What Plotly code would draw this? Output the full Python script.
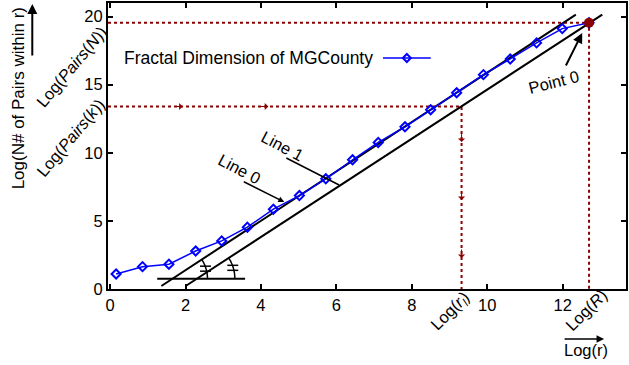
import math
import plotly.graph_objects as go

# ---------------- data ----------------
log_r = [0.16, 0.86, 1.56, 2.27, 2.96, 3.64, 4.33, 5.02, 5.72, 6.43,
         7.11, 7.82, 8.50, 9.19, 9.90, 10.61, 11.31, 11.99, 12.70]
log_pairs = [1.10, 1.64, 1.82, 2.79, 3.53, 4.54, 5.86, 6.86, 8.09, 9.49,
             10.76, 11.91, 13.16, 14.41, 15.74, 16.89, 18.07, 19.12, 19.55]

line1_x = [1.36, 12.35]
line1_y = [0.22, 20.15]
line0_x = [2.005, 13.05]
line0_y = [0.22, 20.15]
base_x = [1.25, 3.58]
base_y = [0.76, 0.76]

log_R = 12.70
log_pairs_N = 19.55
log_rl = 9.32
log_pairs_k = 13.40

x_ticks = [0, 2, 4, 6, 8, 10, 12]
y_ticks = [0, 5, 10, 15, 20]

# ---------------- geometry ----------------
W, H = 629, 365
L, R, T, B = 108, 628, 3, 289          # plot area in px
XR = [-0.055, 13.68]
YR = [0, 21]
FONT = "Liberation Sans, Arial, sans-serif"
DR = "#8b0000"


def px2x(px):
    return XR[0] + (px - L) / (R - L) * (XR[1] - XR[0])


def py2y(py):
    return YR[0] + (B - py) / (B - T) * (YR[1] - YR[0])


def x2px(x):
    return L + (x - XR[0]) / (XR[1] - XR[0]) * (R - L)


def y2py(y):
    return B - (y - YR[0]) / (YR[1] - YR[0]) * (B - T)


def pxp(px):  # paper x
    return (px - L) / (R - L)


def pyp(py):  # paper y
    return (B - py) / (B - T)


fig = go.Figure()

# reference dotted lines
fig.add_trace(go.Scatter(x=[XR[0], log_R, log_R], y=[log_pairs_N, log_pairs_N, 0],
                         mode="lines", line=dict(color=DR, width=2, dash="dot"),
                         showlegend=False, hoverinfo="skip"))
fig.add_trace(go.Scatter(x=[XR[0], log_rl, log_rl], y=[log_pairs_k, log_pairs_k, 0],
                         mode="lines", line=dict(color=DR, width=2, dash="dot"),
                         showlegend=False, hoverinfo="skip"))

# black fitted lines and baseline
for xs, ys in [(line1_x, line1_y), (line0_x, line0_y), (base_x, base_y)]:
    fig.add_trace(go.Scatter(x=xs, y=ys, mode="lines",
                             line=dict(color="black", width=2),
                             showlegend=False, hoverinfo="skip"))

# data series
fig.add_trace(go.Scatter(x=log_r, y=log_pairs, mode="lines+markers",
                         line=dict(color="#0000ff", width=1.5),
                         marker=dict(symbol="diamond-open", size=7,
                                     color="#0000ff", line=dict(width=2)),
                         showlegend=False))
# Point 0
fig.add_trace(go.Scatter(x=[log_r[-1]], y=[log_pairs[-1]], mode="markers",
                         marker=dict(symbol="circle", size=10, color=DR),
                         showlegend=False))

shapes = []
# angle arcs with equal marks
slope_px = (y2py(line1_y[1]) - y2py(line1_y[0])) / (x2px(line1_x[1]) - x2px(line1_x[0]))
ang = math.atan(-slope_px)
for lx, ly, rad in [(line1_x, line1_y, 35), (line0_x, line0_y, 38)]:
    xc = lx[0] + (base_y[0] - ly[0]) * (lx[1] - lx[0]) / (ly[1] - ly[0])
    cx, cy = x2px(xc), y2py(base_y[0])
    pts = []
    for i in range(21):
        a = ang * i / 20
        pts.append((px2x(cx + rad * math.cos(a)), py2y(cy - rad * math.sin(a))))
    path = "M " + " L ".join(f"{a:.4f},{b:.4f}" for a, b in pts)
    shapes.append(dict(type="path", path=path, xref="x", yref="y",
                       line=dict(color="black", width=1.5)))
    am = ang / 2
    mx, my = cx + rad * math.cos(am), cy - rad * math.sin(am)
    for dy in (-2.5, 2.5):
        shapes.append(dict(type="line", xref="x", yref="y",
                           x0=px2x(mx - 6), x1=px2x(mx + 5),
                           y0=py2y(my + dy), y1=py2y(my + dy),
                           line=dict(color="black", width=1.5)))

# legend sample
shapes.append(dict(type="line", xref="paper", yref="paper",
                   x0=pxp(384), x1=pxp(432), y0=pyp(58), y1=pyp(58),
                   line=dict(color="#0000ff", width=1.5)))
shapes.append(dict(type="path", xref="paper", yref="paper",
                   path=f"M {pxp(404)},{pyp(58)} L {pxp(408)},{pyp(54)} L {pxp(412)},{pyp(58)} L {pxp(408)},{pyp(62)} Z",
                   line=dict(color="#0000ff", width=2)))

# pointer lines
shapes.append(dict(type="line", xref="paper", yref="paper",
                   x0=pxp(287), y0=pyp(158), x1=pxp(340), y1=pyp(185),
                   line=dict(color="black", width=1.5)))

annotations = []


def txt(text, cx, cy, angle=0, size=16.5, xanchor="center"):
    annotations.append(dict(text=text, x=pxp(cx), y=pyp(cy), xref="paper", yref="paper",
                            showarrow=False, textangle=angle, xanchor=xanchor,
                            yanchor="middle", font=dict(family=FONT, size=size, color="black")))


txt("Log(N# of Pairs within r)", 18, 98, -90, 17)
txt("Log(<i>Pairs</i>(<i>N</i>))", 71, 67, -50)
txt("Log(<i>Pairs</i>(<i>k</i>))", 70, 138, -50)
txt("Log(<i>r</i><sub><i>l</i></sub>)", 452, 311, -45)
txt("Log(<i>R</i>)", 588, 310, -45)
txt("Log(r)", 588, 350)
txt("Point 0", 555, 82, -14)
txt("Line 1", 283, 146, 28)
txt("Line 0", 240, 169, 28)
txt("Fractal Dimension of MGCounty", 122, 58, 0, 17.5, "left")

# arrows
def arrow(hx, hy, tx, ty, color="black", width=1.5, head=2, size=1.0):
    annotations.append(dict(text="", x=pxp(hx), y=pyp(hy), xref="paper", yref="paper",
                            ax=tx - hx, ay=ty - hy, axref="pixel", ayref="pixel",
                            showarrow=True, arrowhead=head, arrowsize=size,
                            arrowwidth=width, arrowcolor=color))


arrow(32, 4, 32, 57, width=2)               # y title arrow
arrow(606, 339, 565, 339, width=1.5)        # x title arrow
arrow(584, 33, 567, 67, width=2)            # Point 0
arrow(285, 202, 243, 181, width=1.5, size=0.8)   # Line 0 pointer
for ax_px in (183, 269):
    arrow(ax_px, y2py(log_pairs_k), ax_px - 10, y2py(log_pairs_k), color=DR, width=1, head=1, size=1.2)
for ay_px in (142, 200, 258):
    arrow(x2px(log_rl), ay_px, x2px(log_rl), ay_px - 10, color=DR, width=1, head=1, size=1.2)

axis_common = dict(showline=True, linecolor="black", linewidth=2, mirror="allticks",
                   ticks="inside", ticklen=5, tickwidth=1.5, tickcolor="black",
                   showgrid=False, zeroline=False,
                   tickfont=dict(family=FONT, size=16.5, color="black"))

fig.update_layout(
    width=W, height=H,
    margin=dict(l=L, r=W - R, t=T, b=H - B),
    paper_bgcolor="white", plot_bgcolor="white",
    showlegend=False,
    xaxis=dict(range=XR, tickvals=x_ticks, **axis_common),
    yaxis=dict(range=YR, tickvals=y_ticks, **axis_common),
    shapes=shapes, annotations=annotations,
)

fig.write_html("out.html", config={"displayModeBar": False},
               post_script="document.body.style.margin='0';document.body.style.padding='0';")
